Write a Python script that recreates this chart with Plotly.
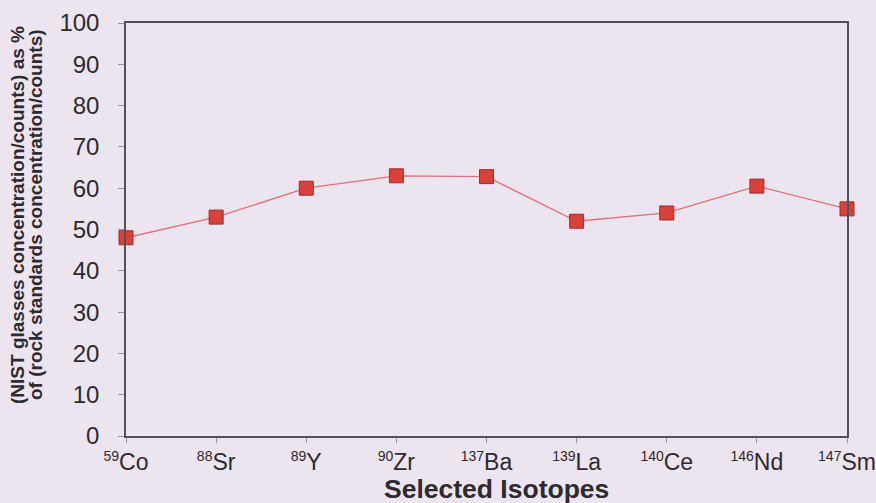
import plotly.graph_objects as go

# Isotopes measured and their NIST-glass / rock-standard response ratio (%)
masses = ["59", "88", "89", "90", "137", "139", "140", "146", "147"]
elements = ["Co", "Sr", "Y", "Zr", "Ba", "La", "Ce", "Nd", "Sm"]
ratio_pct = [48, 53, 60, 63, 62.8, 52, 54, 60.5, 55]

y_ticks = [0, 10, 20, 30, 40, 50, 60, 70, 80, 90, 100]

x_pos = list(range(len(elements)))
tick_text = [f'<sup><span style="font-size:14px">{m}</span></sup>{e}'
             for m, e in zip(masses, elements)]

bg = "#ece4ef"
axis_col = "#555058"
text_col = "#2e2a2e"
font_main = "Liberation Sans, Arial, sans-serif"

W, H = 876, 503
ML, MR, MT, MB = 126, 29, 23, 67
plot_w = W - ML - MR
plot_h = H - MT - MB

fig = go.Figure()
fig.add_trace(go.Scatter(
    x=x_pos, y=ratio_pct, mode="lines+markers",
    line=dict(color="#e0707a", width=1.3),
    marker=dict(symbol="square", size=14, color="#d8403a",
                line=dict(color="#a52a2a", width=1)),
    cliponaxis=False, showlegend=False,
))

# two-line y-axis title, placed line by line
title_lines = ["(NIST glasses concentration/counts) as %",
               "of (rock standards concentration/counts)"]
for px, line in zip([17, 35], title_lines):
    fig.add_annotation(
        text=f"<b>{line}</b>", textangle=-90, showarrow=False,
        xref="paper", yref="paper",
        x=(px - ML) / plot_w, y=(MT + plot_h - 215) / plot_h,
        xanchor="center", yanchor="middle",
        font=dict(family=font_main, size=19, color=text_col),
    )

# x-axis title
fig.add_annotation(
    text="<b>Selected Isotopes</b>", showarrow=False,
    xref="paper", yref="paper",
    x=(496 - ML) / plot_w, y=(MT + plot_h - 489) / plot_h,
    xanchor="center", yanchor="middle",
    font=dict(family=font_main, size=26.5, color=text_col),
)

fig.update_layout(
    width=W, height=H,
    paper_bgcolor=bg, plot_bgcolor=bg,
    margin=dict(l=ML, r=MR, t=MT, b=MB, autoexpand=False),
    font=dict(family=font_main, color=text_col),
    xaxis=dict(
        range=[0, len(elements) - 1], tickvals=x_pos, ticktext=tick_text,
        showgrid=False, zeroline=False, showline=True, mirror=True,
        linecolor=axis_col, linewidth=1.5, automargin=False,
        ticks="outside", ticklen=5, tickcolor="#9a94a0", tickwidth=1,
        tickfont=dict(size=23, color=text_col),
        ticklabeloverflow="allow",
    ),
    yaxis=dict(
        range=[0, 100], tickvals=y_ticks, showgrid=False, zeroline=False,
        showline=True, mirror=True, linecolor=axis_col, linewidth=1.5,
        automargin=False,
        ticks="outside", ticklen=6, tickcolor="#9a94a0", tickwidth=1,
        tickfont=dict(size=24, color=text_col), ticklabelstandoff=14,
    ),
)

fig.write_html("out.html")
